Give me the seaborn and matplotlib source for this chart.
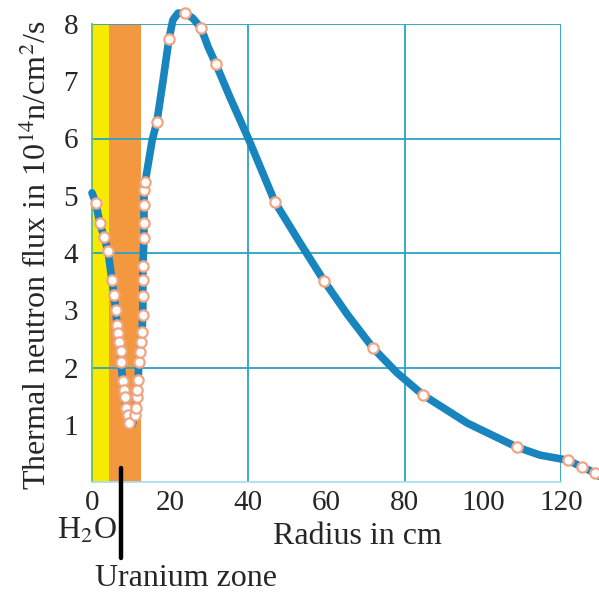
import matplotlib
matplotlib.use("Agg")
import matplotlib.pyplot as plt
import seaborn as sns
import pandas as pd

sns.set_style("white")
plt.rcParams['font.family'] = ['Liberation Serif', 'DejaVu Serif']
plt.rcParams['mathtext.fontset'] = 'stix'

# Marker points (radius in cm, flux in 1e14 n/cm^2/s)
marker_r = [1.0, 2.0, 3.1, 4.1, 5.1, 5.6, 6.1, 6.4, 6.7, 6.9, 7.4, 7.4, 7.9, 8.2, 8.4, 8.7, 9.2, 9.5,
            11.0, 11.3, 11.5, 11.5, 11.8, 12.0, 12.3, 12.5, 12.8, 13.0, 13.0, 13.0, 13.0, 13.3, 13.3, 13.3, 13.3,
            13.6, 16.6, 19.7, 23.8, 27.9, 31.7, 46.8, 59.4, 71.9, 84.7, 108.7, 121.8, 125.4, 128.7]
marker_flux = [4.87, 4.52, 4.28, 4.03, 3.53, 3.27, 3.01, 2.75, 2.61, 2.45, 2.29, 2.10, 1.76, 1.61, 1.48, 1.29, 1.17, 1.03,
               1.17, 1.29, 1.48, 1.61, 1.78, 2.10, 2.27, 2.45, 2.62, 2.92, 3.25, 3.53, 3.77, 4.26, 4.52, 4.84, 5.10,
               5.24, 6.29, 7.74, 8.19, 7.93, 7.30, 4.89, 3.51, 2.34, 1.52, 0.61, 0.38, 0.26, 0.16]

# Curve points (line only)
line_r = [0.0, 1.0, 2.0, 3.1, 4.1, 5.1, 5.6, 6.1, 6.4, 6.7, 6.9, 7.4, 7.4, 7.9, 8.2, 8.4, 8.7, 9.2, 9.5, 10.3,
          11.0, 11.3, 11.5, 11.5, 11.8, 12.0, 12.3, 12.5, 12.8, 13.0, 13.0, 13.0, 13.0, 13.3, 13.3, 13.3, 13.3,
          13.6, 15.4, 16.6, 18.2, 19.7, 20.7, 22.0, 23.8, 25.8, 27.9, 29.7, 31.7, 35.3, 40.0, 46.8, 53.2,
          59.4, 65.3, 71.9, 78.0, 84.7, 96.0, 108.7, 114.6, 121.8, 125.4, 128.7, 129.8]
line_flux = [5.05, 4.87, 4.52, 4.28, 4.03, 3.53, 3.27, 3.01, 2.75, 2.61, 2.45, 2.29, 2.10, 1.76, 1.61, 1.48, 1.29, 1.17, 1.03, 1.00,
             1.17, 1.29, 1.48, 1.61, 1.78, 2.10, 2.27, 2.45, 2.62, 2.92, 3.25, 3.53, 3.77, 4.26, 4.52, 4.84, 5.10,
             5.24, 5.97, 6.29, 7.02, 7.74, 8.07, 8.19, 8.19, 8.10, 7.93, 7.60, 7.30, 6.72, 6.00, 4.89, 4.18,
             3.51, 2.93, 2.34, 1.91, 1.52, 1.03, 0.61, 0.47, 0.38, 0.26, 0.16, 0.10]

x_ticks = [0, 20, 40, 60, 80, 100, 120]
y_ticks = [1, 2, 3, 4, 5, 6, 7, 8]

line_df = pd.DataFrame({"r": line_r, "flux": line_flux})
mark_df = pd.DataFrame({"r": marker_r, "flux": marker_flux})

fig = plt.figure(figsize=(5.99, 5.95), dpi=100)
ax = fig.add_axes([92/599, 1-482/595, 469/599, 458/595])
ax.set_xlim(0, 120)
ax.set_ylim(0, 8)

grid_c = "#2aa3c6"
ax.axvspan(0, 4.4, ymin=0, ymax=1, color="#f7ea00", lw=0, zorder=1)
ax.axvspan(4.4, 12.6, ymin=0, ymax=1, color="#f3983e", lw=0, zorder=1)
for gx in [40, 80, 120]:
    ax.axvline(gx, color=grid_c, lw=1.3, zorder=2)
for gy in [2, 4, 6, 8]:
    ax.axhline(gy, color=grid_c, lw=1.3, zorder=2)

sns.lineplot(data=line_df, x="r", y="flux", sort=False, estimator=None, ax=ax,
             color="#1985bf", lw=5.5, zorder=3, clip_on=False,
             solid_joinstyle="round", solid_capstyle="round")
sns.scatterplot(data=mark_df, x="r", y="flux", ax=ax, s=55, color="white",
                edgecolor="#f0a585", linewidth=1.6, zorder=4, clip_on=False)

for s in ["top", "right"]:
    ax.spines[s].set_visible(False)
ax.spines["left"].set_color("#6dbb6a")
ax.spines["left"].set_linewidth(1.3)
ax.spines["bottom"].set_color("#a8dfee")
ax.spines["bottom"].set_linewidth(1.3)

ax.set_xticks(x_ticks)
ax.set_yticks(y_ticks)
ax.set_xticklabels([str(v) for v in x_ticks])
ax.set_yticklabels([str(v) for v in y_ticks])
ax.tick_params(axis="both", length=0, labelsize=21)
ax.tick_params(axis="x", pad=6)
ax.tick_params(axis="y", pad=10)
ax.set_xlabel("")
ax.set_ylabel("")

# Uranium zone marker line
ax.plot([7.4, 7.4], [0.25, -1.33], color="black", lw=3.2, clip_on=False, zorder=5)

fig.text(357/599, 1-536/595, "Radius in cm", ha="center", va="center", fontsize=23)
fig.text(57/599, 1-531/595, "H$_2$O", ha="left", va="center", fontsize=23)
fig.text(95/599, 1-578/595, "Uranium zone", ha="left", va="center", fontsize=23)
fig.text(37/599, 1-255/595, "Thermal neutron flux in 10$^{14}$n/cm$^{2}$/s",
         rotation=90, ha="center", va="center", fontsize=23)

fig.savefig("out.png", dpi=100, facecolor="white")
